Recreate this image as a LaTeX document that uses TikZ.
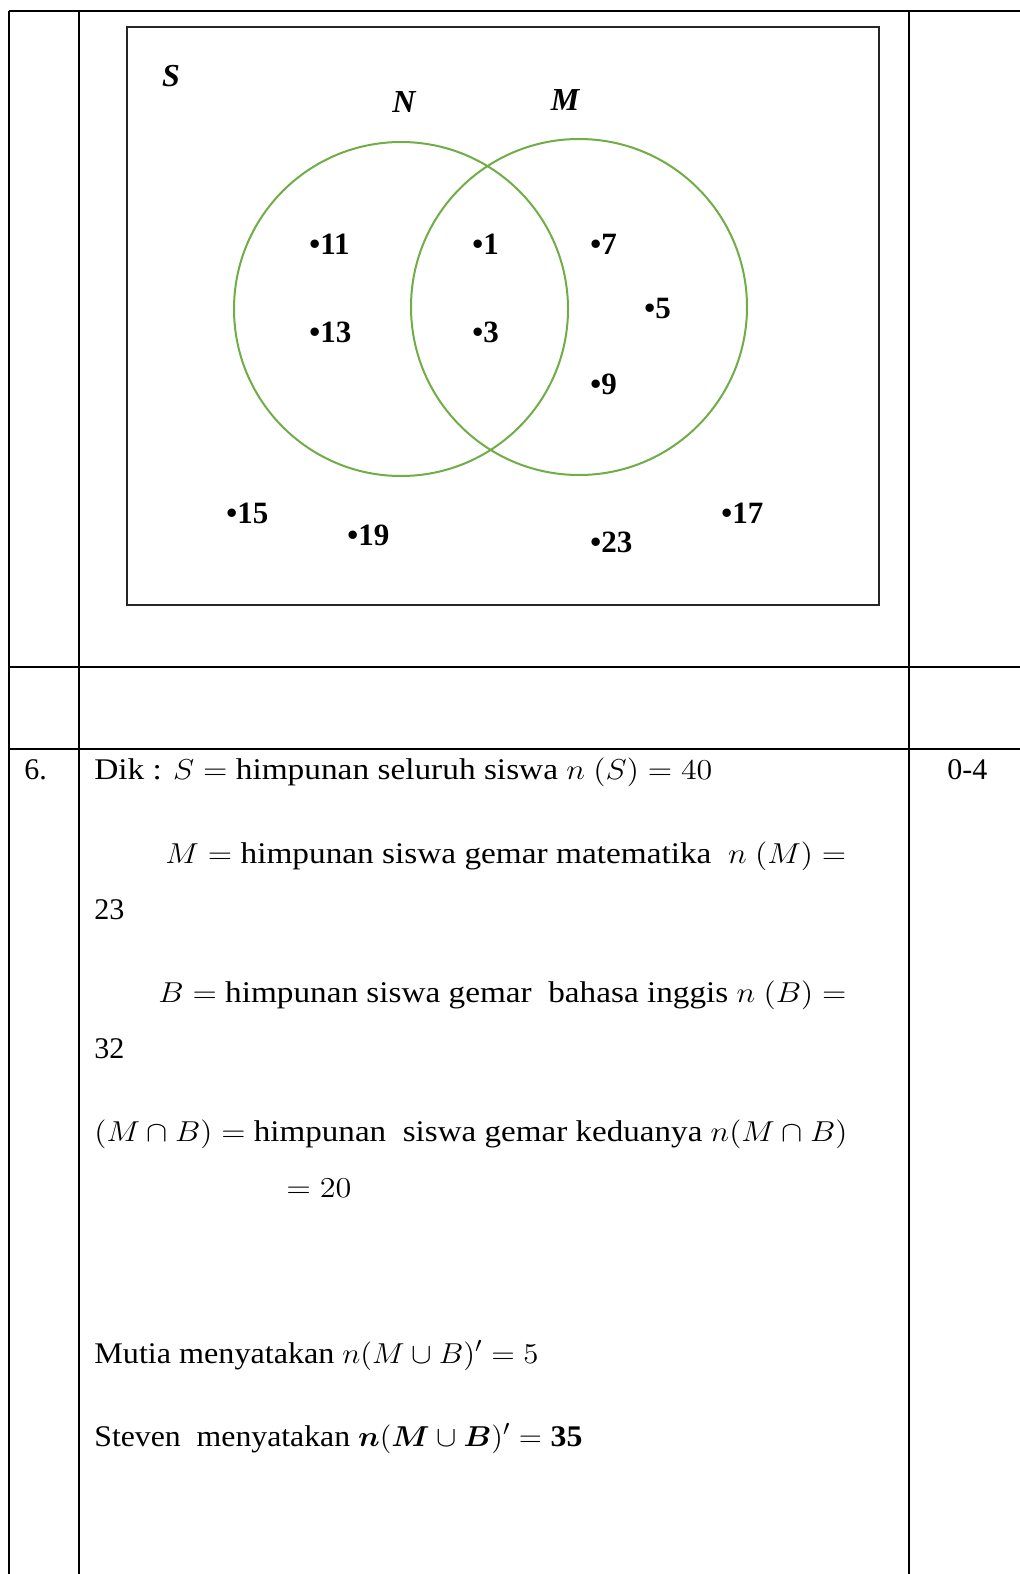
\documentclass[tikz,border=0pt]{standalone}
\usepackage{amsmath}
\usepackage{amssymb}
\usepackage{graphicx}
\usepackage{fontspec}
\setmainfont{Liberation Serif}
\newlength{\pxu}
\setlength{\pxu}{0.5pt}
\newcommand{\fitline}[2]{\resizebox{#1\pxu}{\height}{#2}}
\definecolor{venngreen}{RGB}{112,173,71}
\tikzset{
  rule/.style    = {line width=0.9pt},
  setbox/.style  = {line width=1.3pt, draw=black!85},
  setring/.style = {line width=1pt, draw=venngreen},
  elem/.style    = {inner sep=0pt, anchor=west, font=\fontsize{15.5}{18}\selectfont\bfseries},
  setname/.style = {inner sep=0pt, font=\fontsize{16}{18}\selectfont\bfseries\itshape},
  body/.style    = {inner sep=0pt, anchor=base west, font=\fontsize{15}{18}\selectfont},
}
\begin{document}
\begin{tikzpicture}[x=0.5pt,y=-0.5pt]
  \useasboundingbox (0,0) rectangle (1020,1574);

  % ---------------- table rules ------------------------------------------
  \draw[rule] (9,11) -- (1020,11);
  \draw[rule] (9,667) -- (1020,667);
  \draw[rule] (9,749) -- (1020,749);
  \foreach \xx in {9,79,909}
    \draw[rule] (\xx,11) -- (\xx,1574);

  % ---------------- Venn diagram -----------------------------------------
  \draw[setbox] (127,27) rectangle (879,605);
  \draw[setring] (401,309) circle (167);
  \draw[setring] (579,307) circle (168);
  \node[setname] (nameS) at (171,76) {S};
  \node[setname] (nameN) at (404,102) {N};
  \node[setname] (nameM) at (565,100) {M};
  \foreach \lbl/\xx/\yy in {11/309/244, 13/309/332, 1/472/244, 3/472/332,
                           7/590/244, 5/644/308, 9/590/384,
                           15/226/513, 19/347/535, 23/590/542, 17/721/513}
    \node[elem] (e\lbl) at (\xx,\yy) {\textbullet\lbl};

  % ---------------- question 6 -------------------------------------------
  \node[body] (num) at (24,779) {6.};
  \node[body] (score) at (947,779) {0-4};
  \node[body] (dik) at (94,779)
    {\fitline{618}{Dik : $S =$ himpunan seluruh siswa $n\ (S) = 40$}};
  \node[body] (defM) at (165,863)
    {\fitline{681}{$M =$ himpunan siswa gemar matematika\ \ $n\ (M) =$}};
  \node[body] (valM) at (94,919) {23};
  \node[body] (defB) at (158,1002)
    {\fitline{688}{$B =$ himpunan siswa gemar\ \ bahasa inggis $n\ (B) =$}};
  \node[body] (valB) at (94,1058) {32};
  \node[body] (defMB) at (94,1141)
    {\fitline{753}{$(M \cap B) =$ himpunan\ \ siswa gemar keduanya $n(M \cap B)$}};
  \node[body] (valMB) at (286,1197) {\fitline{65}{$= 20$}};
  \node[body] (mutia) at (94,1363)
    {\fitline{444}{Mutia menyatakan $n(M \cup B)' = 5$}};
  \node[body] (steven) at (94,1446)
    {\fitline{488}{Steven\ \ menyatakan $\boldsymbol{n}(\boldsymbol{M} \cup \boldsymbol{B})' = \mathbf{35}$}};
\end{tikzpicture}
\end{document}
